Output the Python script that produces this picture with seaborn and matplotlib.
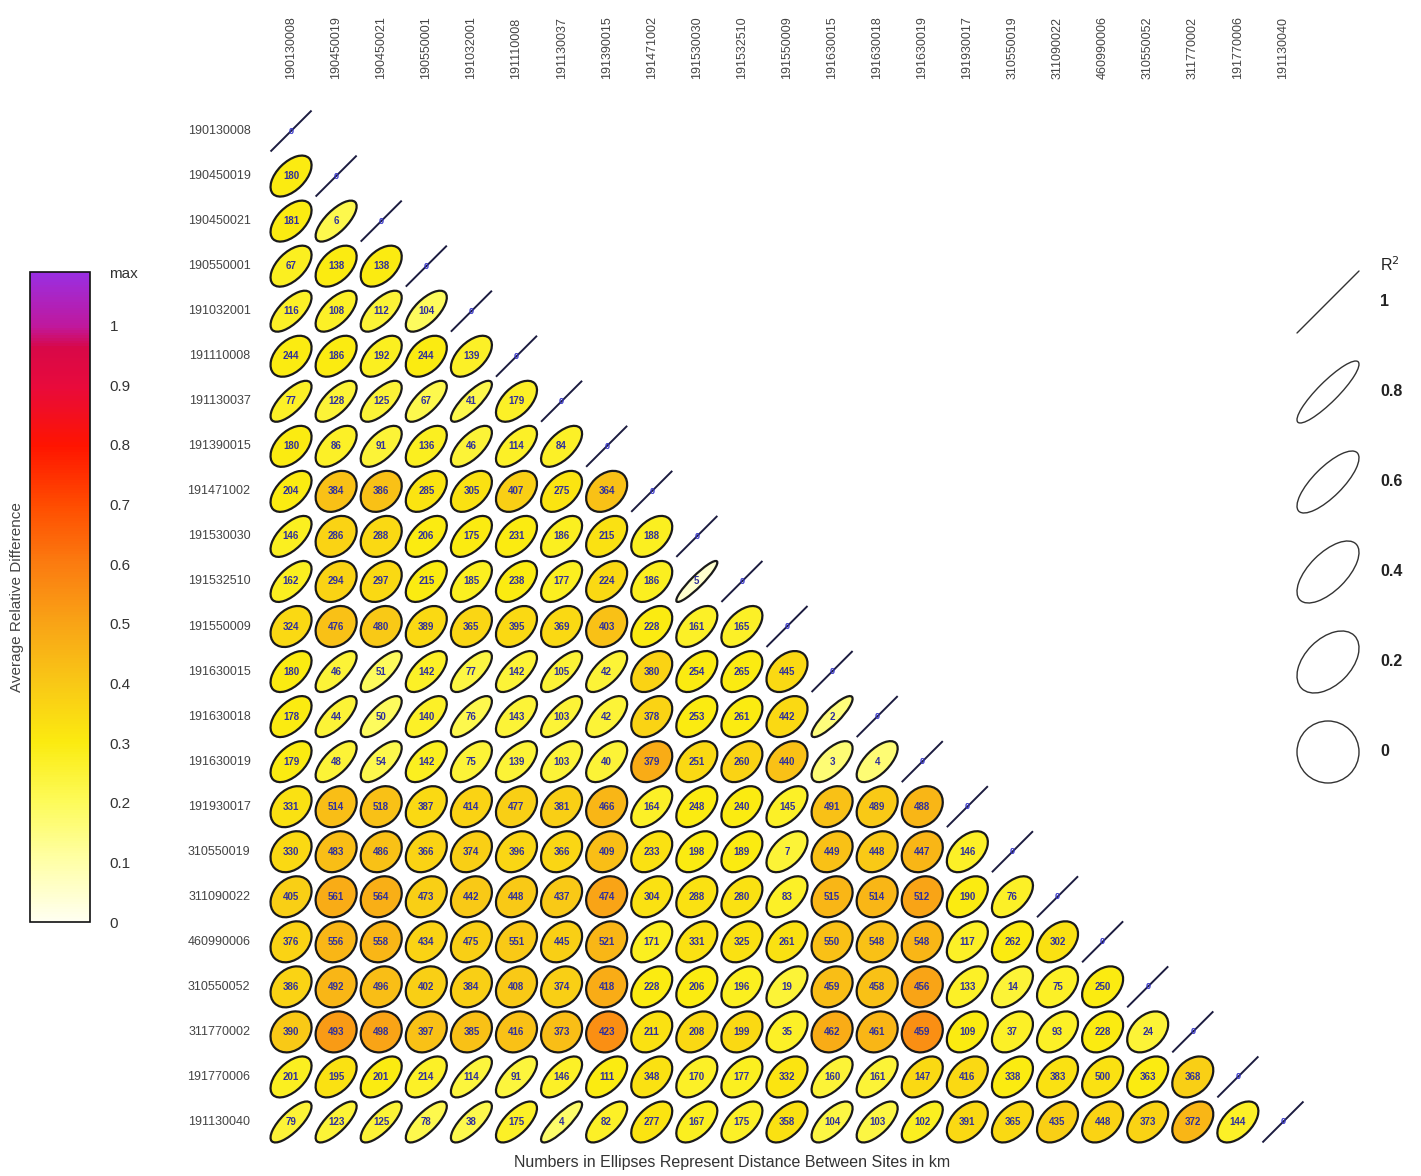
import numpy as np
import pandas as pd
import matplotlib
matplotlib.use("Agg")
import matplotlib.pyplot as plt
import seaborn as sns
from matplotlib.patches import Ellipse
from matplotlib.colors import LinearSegmentedColormap, Normalize
import matplotlib.cm as cm

# ---- data -------------------------------------------------------------
sites = ["190130008", "190450019", "190450021", "190550001", "191032001",
         "191110008", "191130037", "191390015", "191471002", "191530030",
         "191532510", "191550009", "191630015", "191630018", "191630019",
         "191930017", "310550019", "311090022", "460990006", "310550052",
         "311770002", "191770006", "191130040"]

# distance between sites (km), lower triangle, row i holds columns 0..i-1
distance_km = [
    [],
    [180],
    [181, 6],
    [67, 138, 138],
    [116, 108, 112, 104],
    [244, 186, 192, 244, 139],
    [77, 128, 125, 67, 41, 179],
    [180, 86, 91, 136, 46, 114, 84],
    [204, 384, 386, 285, 305, 407, 275, 364],
    [146, 286, 288, 206, 175, 231, 186, 215, 188],
    [162, 294, 297, 215, 185, 238, 177, 224, 186, 5],
    [324, 476, 480, 389, 365, 395, 369, 403, 228, 161, 165],
    [180, 46, 51, 142, 77, 142, 105, 42, 380, 254, 265, 445],
    [178, 44, 50, 140, 76, 143, 103, 42, 378, 253, 261, 442, 2],
    [179, 48, 54, 142, 75, 139, 103, 40, 379, 251, 260, 440, 3, 4],
    [331, 514, 518, 387, 414, 477, 381, 466, 164, 248, 240, 145, 491, 489, 488],
    [330, 483, 486, 366, 374, 396, 366, 409, 233, 198, 189, 7, 449, 448, 447, 146],
    [405, 561, 564, 473, 442, 448, 437, 474, 304, 288, 280, 83, 515, 514, 512, 190, 76],
    [376, 556, 558, 434, 475, 551, 445, 521, 171, 331, 325, 261, 550, 548, 548, 117, 262, 302],
    [386, 492, 496, 402, 384, 408, 374, 418, 228, 206, 196, 19, 459, 458, 456, 133, 14, 75, 250],
    [390, 493, 498, 397, 385, 416, 373, 423, 211, 208, 199, 35, 462, 461, 459, 109, 37, 93, 228, 24],
    [201, 195, 201, 214, 114, 91, 146, 111, 348, 170, 177, 332, 160, 161, 147, 416, 338, 383, 500, 363, 368],
    [79, 123, 125, 78, 38, 175, 4, 82, 277, 167, 175, 358, 104, 103, 102, 391, 365, 435, 448, 373, 372, 144],
]

# coefficient of determination between site pairs (ellipse shape)
r_squared = [
    [],
    [0.28],
    [0.28, 0.52],
    [0.30, 0.22, 0.22],
    [0.45, 0.38, 0.45, 0.45],
    [0.18, 0.22, 0.28, 0.18, 0.30],
    [0.52, 0.45, 0.45, 0.52, 0.68, 0.30],
    [0.22, 0.30, 0.38, 0.30, 0.45, 0.38, 0.38],
    [0.28, 0.08, 0.08, 0.22, 0.22, 0.15, 0.22, 0.11],
    [0.38, 0.08, 0.08, 0.28, 0.30, 0.22, 0.28, 0.18, 0.22],
    [0.38, 0.08, 0.11, 0.28, 0.30, 0.22, 0.30, 0.18, 0.22, 0.85],
    [0.11, 0.05, 0.05, 0.15, 0.11, 0.15, 0.11, 0.05, 0.18, 0.28, 0.28],
    [0.28, 0.52, 0.58, 0.38, 0.52, 0.45, 0.52, 0.45, 0.15, 0.22, 0.22, 0.15],
    [0.28, 0.52, 0.55, 0.38, 0.55, 0.38, 0.52, 0.38, 0.15, 0.22, 0.18, 0.15, 0.75],
    [0.28, 0.45, 0.45, 0.30, 0.30, 0.30, 0.30, 0.30, 0.08, 0.15, 0.15, 0.11, 0.42, 0.42],
    [0.11, 0.05, 0.05, 0.11, 0.11, 0.08, 0.11, 0.05, 0.28, 0.22, 0.18, 0.30, 0.08, 0.08, 0.05],
    [0.08, 0.05, 0.05, 0.08, 0.08, 0.08, 0.08, 0.05, 0.15, 0.18, 0.18, 0.28, 0.08, 0.08, 0.05, 0.22],
    [0.08, 0.03, 0.03, 0.08, 0.05, 0.08, 0.08, 0.03, 0.11, 0.11, 0.15, 0.28, 0.05, 0.05, 0.03, 0.18, 0.30],
    [0.08, 0.03, 0.03, 0.08, 0.08, 0.08, 0.08, 0.05, 0.22, 0.15, 0.11, 0.15, 0.05, 0.05, 0.05, 0.22, 0.18, 0.15],
    [0.08, 0.03, 0.03, 0.05, 0.05, 0.05, 0.05, 0.015, 0.15, 0.15, 0.15, 0.30, 0.05, 0.05, 0.015, 0.28, 0.28, 0.18, 0.15],
    [0.05, 0.015, 0.015, 0.05, 0.05, 0.03, 0.03, 0.01, 0.11, 0.11, 0.08, 0.15, 0.03, 0.03, 0.01, 0.15, 0.15, 0.18, 0.11, 0.15],
    [0.30, 0.22, 0.28, 0.30, 0.52, 0.45, 0.38, 0.28, 0.18, 0.22, 0.22, 0.18, 0.38, 0.38, 0.22, 0.15, 0.18, 0.18, 0.15, 0.18, 0.11],
    [0.58, 0.58, 0.58, 0.58, 0.58, 0.45, 0.72, 0.45, 0.28, 0.30, 0.30, 0.28, 0.45, 0.45, 0.38, 0.18, 0.22, 0.15, 0.15, 0.18, 0.15, 0.28],
]

# average relative difference between site pairs (ellipse fill)
avg_rel_diff = [
    [],
    [0.30],
    [0.30, 0.22],
    [0.28, 0.30, 0.30],
    [0.27, 0.27, 0.25, 0.20],
    [0.30, 0.30, 0.28, 0.30, 0.27],
    [0.27, 0.25, 0.25, 0.22, 0.22, 0.27],
    [0.30, 0.27, 0.25, 0.28, 0.25, 0.27, 0.27],
    [0.30, 0.42, 0.42, 0.32, 0.33, 0.38, 0.32, 0.42],
    [0.28, 0.37, 0.35, 0.30, 0.30, 0.30, 0.28, 0.33, 0.28],
    [0.28, 0.37, 0.35, 0.30, 0.28, 0.30, 0.28, 0.35, 0.28, 0.05],
    [0.35, 0.42, 0.40, 0.35, 0.36, 0.35, 0.35, 0.42, 0.30, 0.27, 0.27],
    [0.30, 0.25, 0.20, 0.27, 0.23, 0.25, 0.25, 0.25, 0.37, 0.30, 0.30, 0.35],
    [0.30, 0.25, 0.20, 0.27, 0.22, 0.25, 0.25, 0.25, 0.37, 0.30, 0.30, 0.35, 0.16],
    [0.30, 0.25, 0.22, 0.28, 0.25, 0.25, 0.25, 0.25, 0.48, 0.35, 0.37, 0.42, 0.17, 0.17],
    [0.33, 0.43, 0.42, 0.35, 0.37, 0.38, 0.38, 0.45, 0.27, 0.30, 0.30, 0.27, 0.42, 0.40, 0.45],
    [0.35, 0.43, 0.42, 0.37, 0.38, 0.36, 0.36, 0.43, 0.33, 0.30, 0.30, 0.25, 0.42, 0.40, 0.45, 0.27],
    [0.38, 0.48, 0.47, 0.38, 0.40, 0.40, 0.40, 0.50, 0.33, 0.33, 0.33, 0.27, 0.45, 0.45, 0.50, 0.30, 0.27],
    [0.37, 0.45, 0.45, 0.37, 0.38, 0.40, 0.38, 0.45, 0.28, 0.33, 0.33, 0.33, 0.42, 0.42, 0.45, 0.27, 0.30, 0.33],
    [0.37, 0.45, 0.43, 0.38, 0.38, 0.40, 0.38, 0.48, 0.30, 0.30, 0.28, 0.25, 0.43, 0.42, 0.50, 0.27, 0.25, 0.27, 0.30],
    [0.40, 0.52, 0.50, 0.42, 0.42, 0.42, 0.43, 0.55, 0.33, 0.35, 0.35, 0.27, 0.48, 0.45, 0.55, 0.30, 0.27, 0.27, 0.30, 0.25],
    [0.28, 0.33, 0.30, 0.27, 0.24, 0.24, 0.27, 0.30, 0.33, 0.27, 0.28, 0.32, 0.25, 0.25, 0.35, 0.35, 0.30, 0.33, 0.33, 0.30, 0.38],
    [0.25, 0.25, 0.25, 0.22, 0.22, 0.27, 0.18, 0.27, 0.32, 0.28, 0.27, 0.33, 0.23, 0.23, 0.28, 0.35, 0.35, 0.38, 0.37, 0.37, 0.45, 0.27],
]

legend_r2 = [1, 0.8, 0.6, 0.4, 0.2, 0]
cbar_ticks = [0, 0.1, 0.2, 0.3, 0.4, 0.5, 0.6, 0.7, 0.8, 0.9, 1.0]
cbar_ticklabels = ["0", "0.1", "0.2", "0.3", "0.4", "0.5", "0.6", "0.7", "0.8", "0.9", "1"]
ARD_MAX = 1.09

# ---- style ------------------------------------------------------------
sns.set_theme(style="white")
plt.rcParams["font.family"] = ["Liberation Sans", "DejaVu Sans"]

anchors = [(0.00, "#fffff0"), (0.10, "#ffffa8"), (0.20, "#fdfb5a"),
           (0.30, "#fbeb10"), (0.40, "#f9c816"), (0.50, "#f9a416"),
           (0.60, "#fb7c10"), (0.70, "#ff4c00"), (0.80, "#ff1400"),
           (0.90, "#e80a3c"), (0.965, "#d80848"), (1.00, "#c0189c"),
           (ARD_MAX, "#9a2ee2")]
cmap = LinearSegmentedColormap.from_list(
    "ard", [(v / ARD_MAX, c) for v, c in anchors])
norm = Normalize(vmin=0, vmax=ARD_MAX)

n = len(sites)
grid = np.full((n, n), np.nan)
for i, row in enumerate(avg_rel_diff):
    grid[i, :len(row)] = row
df = pd.DataFrame(grid, index=sites, columns=sites)

W, H = 1421, 1176
fig = plt.figure(figsize=(W / 100, H / 100), dpi=100)
fig.patch.set_facecolor("white")

# ---- ellipse matrix ---------------------------------------------------
ax = fig.add_axes([268.5 / W, 31.5 / H, 1037 / W, 1036 / H])
sns.heatmap(df, mask=np.ones((n, n), dtype=bool), cmap=cmap, vmin=0,
            vmax=ARD_MAX, cbar=False, ax=ax,
            xticklabels=sites, yticklabels=sites)
ax.set_xlim(0, n)
ax.set_ylim(n, 0)
ax.xaxis.tick_top()
ax.tick_params(axis="x", length=0, pad=21, labelsize=9, labelrotation=90,
               labelcolor="#444444")
ax.tick_params(axis="y", length=0, pad=13, labelsize=9, labelrotation=0,
               labelcolor="#444444")
ax.set_xlabel("")
ax.set_ylabel("")

S = 0.455         # ellipse scale in cell units (circle radius for R2 = 0)
EDGE = "#1a1a1a"
NUM_COLOR = "#2f2f9c"


def add_r2_ellipse(axis, x, y, r2, scale, **kw):
    r = np.sqrt(r2)
    e = Ellipse((x, y), width=2 * scale * np.sqrt(1 + r),
                height=2 * scale * np.sqrt(max(1 - r, 0.0)), angle=-45, **kw)
    axis.add_patch(e)
    return e


for i in range(n):
    for j in range(i):
        cx, cy = j + 0.5, i + 0.5
        add_r2_ellipse(ax, cx, cy, r_squared[i][j], S,
                       facecolor=cmap(norm(avg_rel_diff[i][j])),
                       edgecolor=EDGE, lw=1.6, clip_on=False, zorder=2)
        ax.text(cx, cy, str(distance_km[i][j]), ha="center", va="center",
                fontsize=7, fontweight="bold", color=NUM_COLOR, zorder=3)
    # self-comparison: R2 = 1 collapses to a line, distance 0
    c = i + 0.5
    ax.plot([c - S, c + S], [c + S, c - S], color="#1c1c40", lw=1.4,
            solid_capstyle="butt", zorder=2, clip_on=False)
    ax.text(c, c, "0", ha="center", va="center", fontsize=6.5,
            fontweight="bold", color="#3434c8", zorder=3)

fig.text(732 / W, 1 - 1163 / H,
         "Numbers in Ellipses Represent Distance Between Sites in km",
         ha="center", va="center", fontsize=11.5, color="#333333")

# ---- colour bar -------------------------------------------------------
cax = fig.add_axes([30 / W, (H - 922) / H, 60 / W, 650 / H])
sm = cm.ScalarMappable(norm=norm, cmap=cmap)
cb = fig.colorbar(sm, cax=cax)
cb.set_ticks(cbar_ticks + [ARD_MAX])
cb.set_ticklabels(cbar_ticklabels + ["max"])
cax.tick_params(length=0, labelsize=11, pad=14, labelcolor="#333333")
cax.yaxis.set_label_position("left")
cb.set_label("Average Relative Difference", fontsize=11, color="#444444",
             labelpad=4)
cb.outline.set_edgecolor("#111111")
cb.outline.set_linewidth(1.2)

# ---- R2 legend --------------------------------------------------------
lax = fig.add_axes([1283 / W, 376 / H, 138 / W, 585 / H])
unit = 90.0
lax.set_xlim(0, 138 / unit)
lax.set_ylim((800 - 302) / unit, -(302 - 215) / unit)
lax.set_aspect("equal")
lax.axis("off")
for k, r2 in enumerate(legend_r2):
    if r2 >= 1:
        d = 31 / unit
        lax.plot([0.5 - d, 0.5 + d], [k + d, k - d], color="#333333", lw=1.0)
    else:
        add_r2_ellipse(lax, 0.5, k, r2, 31 / unit, facecolor="none",
                       edgecolor="#333333", lw=1.0)
    lax.text(1.08, k, f"{r2:g}", ha="left", va="center", fontsize=11.5,
             fontweight="bold", color="#222222")
lax.text(1.19, -0.42, "R$^2$", ha="center", va="center", fontsize=11.5,
         color="#222222")

fig.savefig("out.png", dpi=100, facecolor="white")
